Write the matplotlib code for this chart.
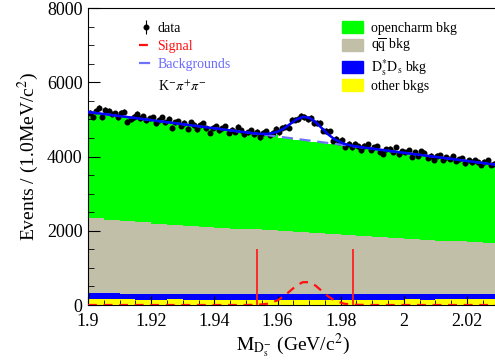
import numpy as np
import matplotlib
matplotlib.use('Agg')
import matplotlib.pyplot as plt
from matplotlib.patches import Patch
from matplotlib.ticker import MultipleLocator, FuncFormatter

plt.rcParams['font.family'] = ['Liberation Serif', 'DejaVu Serif']
plt.rcParams['mathtext.fontset'] = 'stix'

# data: events per 1 MeV bin, 1.900 - 2.030 GeV
data_counts = [
    5180, 5064, 5233, 5318, 5061, 5250, 5229, 5138, 5164, 5066,
    5180, 5209, 4941, 5012, 5064, 5150, 5029, 5078, 4977, 5026,
    5055, 4904, 4983, 5052, 4921, 5010, 4779, 4918, 4947, 4826,
    4905, 4744, 4918, 4847, 4741, 4860, 4899, 4758, 4637, 4776,
    4815, 4704, 4763, 4812, 4641, 4720, 4669, 4798, 4707, 4596,
    4655, 4704, 4593, 4662, 4520, 4636, 4685, 4571, 4643, 4745,
    4657, 4779, 4801, 4780, 4981, 4990, 5009, 5102, 5064, 5003,
    5049, 4904, 4903, 4902, 4689, 4688, 4674, 4430, 4476, 4402,
    4448, 4260, 4339, 4251, 4341, 4280, 4169, 4288, 4327, 4186,
    4245, 4274, 4133, 4072, 4191, 4210, 4119, 4258, 4057, 4146,
    4115, 4174, 3993, 4112, 4021, 4150, 4099, 3958, 4027, 3906,
    4025, 4034, 3913, 3982, 3931, 4010, 3879, 3928, 3957, 3816,
    3905, 3844, 3903, 3852, 3771, 3860, 3899, 3768, 3807, 3836,
]

# fit curves
fit_x = [1.90, 1.91, 1.92, 1.93, 1.94, 1.95, 1.954, 1.957, 1.96, 1.962,
         1.964, 1.966, 1.968, 1.970, 1.972, 1.974, 1.976, 1.978, 1.981,
         1.984, 1.99, 2.00, 2.01, 2.02, 2.03]
fit_bkg = [5200, 5090, 4980, 4870, 4760, 4650, 4606, 4573, 4540, 4518,
           4496, 4474, 4452, 4430, 4408, 4386, 4364, 4342, 4309,
           4276, 4210, 4100, 3990, 3880, 3770]
fit_sig = [0, 0, 0, 0, 0, 0, 7, 36, 125, 235,
           380, 525, 615, 615, 525, 380, 235, 125, 36,
           7, 0, 0, 0, 0, 0]

# stacked MC backgrounds, 5 MeV bins
other_bkg = [150, 155, 150, 145, 148, 150, 145, 140, 142, 145, 140, 138, 140,
             142, 145, 140, 138, 142, 145, 148, 150, 148, 150, 152, 150, 150]
dsds_bkg = [185, 160, 155, 155, 147, 140, 145, 148, 148, 147, 155, 158, 157,
            155, 152, 157, 159, 155, 151, 148, 146, 149, 147, 145, 147, 146]
qq_bkg = [2000, 1985, 1960, 1930, 1900, 1870, 1840, 1812, 1785, 1763, 1740, 1714, 1688,
          1665, 1643, 1621, 1598, 1571, 1544, 1516, 1489, 1463, 1438, 1415, 1393, 1374]
opencharm_bkg = [2837, 2817, 2797, 2777, 2757, 2737, 2712, 2687, 2657, 2622, 2587, 2557, 2527,
                 2495, 2462, 2429, 2397, 2369, 2342, 2315, 2287, 2257, 2227, 2195, 2162, 2127]

window = [1.9535, 1.984]
window_height = 1500

x_lo, x_hi = 1.9, 2.03
data_x = x_lo + 0.0005 + 0.001 * np.arange(len(data_counts))
edges = np.linspace(x_lo, x_hi, len(other_bkg) + 1)

fig = plt.figure(figsize=(4.95, 3.61), dpi=100)
ax = fig.add_axes([0.1778, 0.1551, 0.8295, 0.8227])

# stack
c1 = np.array(other_bkg)
c2 = c1 + np.array(dsds_bkg)
c3 = c2 + np.array(qq_bkg)
c4 = c3 + np.array(opencharm_bkg)
ax.stairs(c4, edges, baseline=c3, fill=True, color='#00ff00', zorder=1)
ax.stairs(c3, edges, baseline=c2, fill=True, color='#c2bfa9', zorder=1)
ax.stairs(c2, edges, baseline=c1, fill=True, color='#0000ff', zorder=1)
ax.stairs(c1, edges, baseline=0, fill=True, color='#ffff00', zorder=1)

counts = np.array(data_counts)
eb = ax.errorbar(data_x, counts, yerr=np.sqrt(counts), fmt='o', color='black',
                 ms=3.3, elinewidth=0.8, capsize=0, zorder=4)

fit_bkg = np.array(fit_bkg)
fit_sig = np.array(fit_sig)
l_sig, = ax.plot(fit_x, fit_sig, color='#ff1010', lw=1.6, dashes=(4, 3), zorder=3)
l_bkg, = ax.plot(fit_x, fit_bkg, color='#7070ff', lw=1.6, dashes=(5, 3), zorder=5)
ax.plot(fit_x, fit_bkg + fit_sig, color='#0000ff', lw=1.8, zorder=6)

ax.vlines(window, 0, window_height, color='#ff2020', lw=1.3, zorder=3)

ax.set_xlim(x_lo, x_hi)
ax.set_ylim(0, 8000)
ax.xaxis.set_major_locator(MultipleLocator(0.02))
ax.xaxis.set_minor_locator(MultipleLocator(0.005))
ax.yaxis.set_major_locator(MultipleLocator(2000))
ax.yaxis.set_minor_locator(MultipleLocator(500))
ax.xaxis.set_major_formatter(FuncFormatter(lambda v, p: f"{v:.2f}".rstrip('0').rstrip('.')))
ax.tick_params(which='both', direction='in', top=False, right=False, labelsize=13)
ax.tick_params(axis='x', which='major', length=6.5, pad=6)
ax.tick_params(axis='x', which='minor', length=3.5)
ax.tick_params(axis='y', which='major', length=8.5, pad=4)
ax.tick_params(axis='y', which='minor', length=4.3)
for s in ax.spines.values():
    s.set_linewidth(0.8)

ax.set_xlabel(r"$\mathrm{M_{D_s^{-}}}$ (GeV/c$^2$)", fontsize=14, labelpad=1)
ax.set_ylabel(r"Events / (1.0MeV/c$^2$)", fontsize=14, labelpad=4)

leg1 = ax.legend([eb, l_sig, l_bkg], ['data', 'Signal', 'Backgrounds'],
                 loc='upper left', bbox_to_anchor=(0.125, 0.952), borderaxespad=0,
                 borderpad=0, frameon=False, fontsize=10, handlelength=1.0,
                 handletextpad=0.3, labelspacing=0.35)
for t, c in zip(leg1.get_texts(), ['black', '#ff1010', '#6a6aff']):
    t.set_color(c)
ax.add_artist(leg1)
ax.text(0.170, 0.734, r"K$^{-}\pi^{+}\pi^{-}$", transform=ax.transAxes,
        fontsize=10, va='center', ha='left')

handles = [Patch(color='#00ff00'), Patch(color='#c2bfa9'),
           Patch(color='#0000ff'), Patch(color='#ffff00')]
labels = ['opencharm bkg', r'q$\overline{\mathrm{q}}$ bkg',
          r'$\mathrm{D_s^{*}D_s}$ bkg', 'other bkgs']
ax.legend(handles, labels, loc='upper left', bbox_to_anchor=(0.619, 0.955),
          borderaxespad=0, borderpad=0, frameon=False, fontsize=10,
          handlelength=1.5, handleheight=0.95, handletextpad=0.55, labelspacing=0.12)

fig.savefig('out.png', dpi=100)
